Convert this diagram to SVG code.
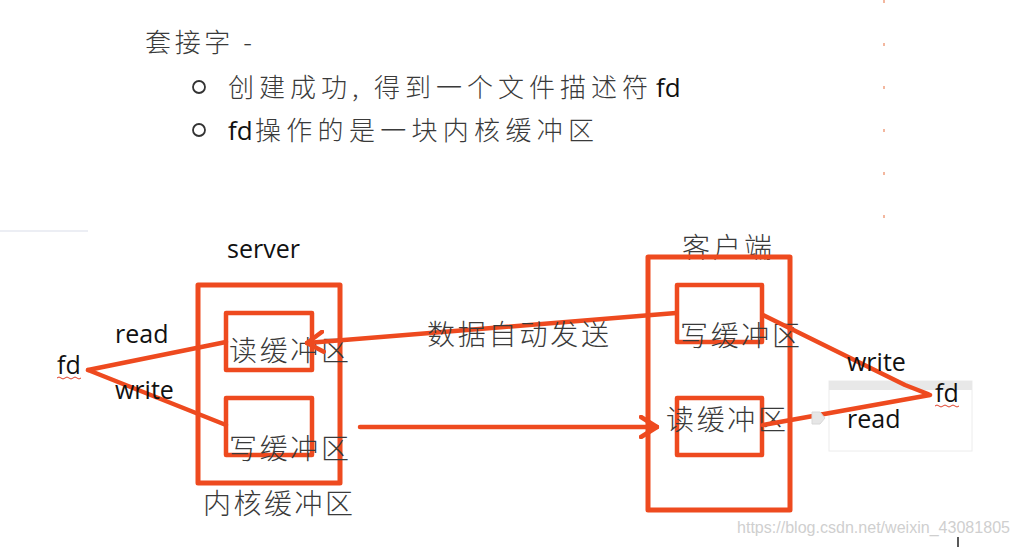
<svg xmlns="http://www.w3.org/2000/svg" width="1018" height="547" viewBox="0 0 1018 547">
<style>
.box{fill:none;stroke:#ee4a1f;stroke-width:5;stroke-linejoin:round}
.inner{fill:none;stroke:#ee4a1f;stroke-width:4.5;stroke-linejoin:round}
.line{fill:none;stroke:#ee4a1f;stroke-width:4.5;stroke-linecap:round;stroke-linejoin:round}
.cjk{font-family:"Noto Sans CJK SC","Liberation Sans",sans-serif;font-size:28px;fill:#3a3a3a;font-weight:300}
.lat{font-family:"Open Sans","Noto Sans","Liberation Sans",sans-serif;font-size:25px;fill:#111}
.head{font-family:"Noto Sans CJK SC","Liberation Sans",sans-serif;font-size:26px;fill:#3a3a3a;font-weight:300}
.headlat{font-family:"Open Sans","Noto Sans","Liberation Sans",sans-serif;font-size:26px;fill:#111}
</style>
<defs>
<marker id="ah" viewBox="0 0 20 24" refX="18" refY="12" markerWidth="20" markerHeight="24" markerUnits="userSpaceOnUse" orient="auto">
<path d="M2,2 L18,12 L2,22" fill="none" stroke="#ee4a1f" stroke-width="4.5" stroke-linecap="round" stroke-linejoin="round"/>
</marker>
</defs>
<rect width="1018" height="547" fill="#fff"/>

<g id="header">
<text class="head" x="145" y="52" textLength="107" lengthAdjust="spacing">套接字 -</text>
<circle cx="199" cy="87" r="6" fill="none" stroke="#333" stroke-width="1.8"/>
<text class="head" x="228" y="97" textLength="420" lengthAdjust="spacing">创建成功, 得到一个文件描述符</text>
<text class="headlat" x="656" y="97">fd</text>
<circle cx="199" cy="130" r="6" fill="none" stroke="#333" stroke-width="1.8"/>
<text class="headlat" x="228" y="140">fd</text>
<text class="head" x="255" y="140" textLength="339" lengthAdjust="spacing">操作的是一块内核缓冲区</text>
<line x1="884" y1="0" x2="884" y2="230" stroke="#f0a080" stroke-width="1.5" stroke-dasharray="3,40"/>
<line x1="0" y1="231" x2="88" y2="231" stroke="#eceef4" stroke-width="2"/>
</g>

<g id="server">
<text class="lat" x="227" y="258">server</text>
<rect class="box" x="198" y="285" width="142" height="198"/>
<text class="cjk" x="203" y="514" textLength="150" lengthAdjust="spacing">内核缓冲区</text>
</g>
<g id="server-read">
<rect class="inner" x="226" y="313" width="86" height="57"/>
<text class="cjk" x="229" y="361" textLength="120" lengthAdjust="spacing">读缓冲区</text>
</g>
<g id="server-write">
<rect class="inner" x="226" y="398" width="86" height="57"/>
<text class="cjk" x="229" y="459" textLength="120" lengthAdjust="spacing">写缓冲区</text>
</g>

<g id="client">
<text class="cjk" x="682" y="258" textLength="90" lengthAdjust="spacing">客户端</text>
<rect class="box" x="648" y="257" width="142" height="253"/>
</g>
<g id="client-write">
<rect class="inner" x="677" y="285" width="85" height="57"/>
<text class="cjk" x="680" y="346" textLength="120" lengthAdjust="spacing">写缓冲区</text>
</g>
<g id="client-read">
<rect class="inner" x="677" y="398" width="85" height="57"/>
<text class="cjk" x="666" y="430" textLength="120" lengthAdjust="spacing">读缓冲区</text>
</g>

<g id="fd-left">
<text class="lat" x="57" y="374">fd</text>
<path d="M57,378 q2,-2 4,0 t4,0 t4,0 t4,0 t4,0 t4,0" fill="none" stroke="#e0402a" stroke-width="1"/>
</g>

<g id="fd-right">
<rect x="829" y="381" width="143" height="70" fill="#fff" stroke="#ececec" stroke-width="1"/>
<rect x="829" y="381" width="143" height="9" fill="#e8e8e8"/>
<text class="lat" x="935" y="402">fd</text>
<path d="M935,406 q2,-2 4,0 t4,0 t4,0 t4,0 t4,0 t4,0" fill="none" stroke="#e0402a" stroke-width="1"/>
</g>

<g id="connectors">
<line class="line" x1="88" y1="370" x2="226" y2="342"/>
<line class="line" x1="88" y1="370" x2="226" y2="425"/>
<line class="line" x1="676" y1="313" x2="307" y2="343" marker-end="url(#ah)"/>
<line class="line" x1="360" y1="427" x2="657" y2="427" marker-end="url(#ah)"/>
<polyline class="line" points="763,315 905,385 928,394"/>
<line class="line" x1="763" y1="425" x2="930" y2="395"/>
<path d="M812,412 h8 l5,6 l-5,6 h-8 z" fill="#e6e6e6" stroke="#d8d8d8" stroke-width="1"/>
</g>

<g id="labels">
<text class="lat" x="115" y="343">read</text>
<text class="lat" x="115" y="399">write</text>
<text class="cjk" x="427" y="345" textLength="182" lengthAdjust="spacing">数据自动发送</text>
<text class="lat" x="847" y="371">write</text>
<text class="lat" x="847" y="428">read</text>
</g>

<g id="watermark">
<text x="737" y="533" textLength="273" lengthAdjust="spacingAndGlyphs" style="font-family:'Liberation Sans',Arial,sans-serif;font-size:16px;fill:#cfcfcf">https://blog.csdn.net/weixin_43081805</text>
<line x1="958" y1="537" x2="958" y2="547" stroke="#222" stroke-width="1.5"/>
</g>
</svg>
